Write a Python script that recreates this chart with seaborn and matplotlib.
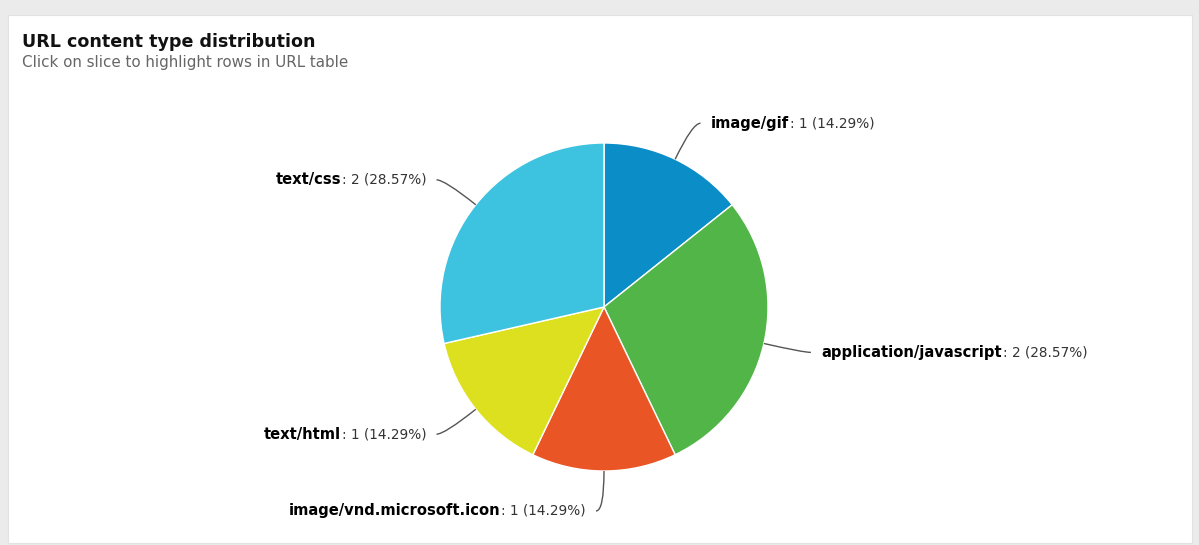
import numpy as np
import matplotlib
matplotlib.use("Agg")
import matplotlib.pyplot as plt
import seaborn as sns
from matplotlib.path import Path
from matplotlib.patches import PathPatch, Rectangle

# ---- data ----
categories = ["image/gif", "application/javascript", "image/vnd.microsoft.icon",
              "text/html", "text/css"]
counts = [1, 2, 1, 1, 2]
colors = ["#0b8dc8", "#52b548", "#e95525", "#dce01e", "#3dc3e0"]
title = "URL content type distribution"
subtitle = "Click on slice to highlight rows in URL table"

sns.set_theme(style="white")
plt.rcParams['font.family'] = ['DejaVu Sans']

W, H = 1199, 545
fig = plt.figure(figsize=(W / 100, H / 100), dpi=100, facecolor="#ebebeb")
ax = fig.add_axes([0, 0, 1, 1])

# white panel
ax.add_patch(Rectangle((8, 2), 1184, H - 17, facecolor="white", edgecolor="#e2e2e2",
                       linewidth=0.8, zorder=0))

cx, cy, r = 604, H - 307, 164
wedges, _ = ax.pie(counts, colors=colors, startangle=90, counterclock=False,
                   center=(cx, cy), radius=r, frame=True,
                   wedgeprops=dict(edgecolor="white", linewidth=1.0))
ax.set_xlim(0, W)
ax.set_ylim(0, H)
ax.axis("off")

ax.text(22, H - 42, title, fontsize=12.6, fontweight="bold", color="#111111",
        va="center", ha="left")
ax.text(22, H - 62, subtitle, fontsize=10.9, color="#666666", va="center", ha="left")

total = sum(counts)
fig.canvas.draw()
renderer = fig.canvas.get_renderer()
inv = ax.transData.inverted()

label_r = 204
bold_fs, rest_fs = 10.6, 9.8
for w, cat, n in zip(wedges, categories, counts):
    th = np.deg2rad((w.theta1 + w.theta2) / 2)
    ex, ey = cx + r * np.cos(th), cy + r * np.sin(th)
    lx, ly = cx + label_r * np.cos(th), cy + label_r * np.sin(th)
    right = np.cos(th) > 0.01
    sgn = 1 if right else -1
    endx = lx + sgn * 8
    path = Path([(ex, ey), (lx, ly), (endx, ly)], [Path.MOVETO, Path.CURVE3, Path.CURVE3])
    ax.add_patch(PathPatch(path, facecolor="none", edgecolor="#555555", linewidth=1.0))
    rest = f": {n} ({n / total * 100:.2f}%)"
    tx = endx + sgn * 10
    if right:
        t1 = ax.text(tx, ly, cat, fontsize=bold_fs, fontweight="bold", color="#000000",
                     ha="left", va="center")
        bb = t1.get_window_extent(renderer)
        x1 = inv.transform((bb.x1, bb.y0))[0]
        ax.text(x1 + 1, ly, rest, fontsize=rest_fs, color="#333333", ha="left", va="center")
    else:
        t2 = ax.text(tx, ly, rest, fontsize=rest_fs, color="#333333", ha="right", va="center")
        bb = t2.get_window_extent(renderer)
        x0 = inv.transform((bb.x0, bb.y0))[0]
        ax.text(x0 - 1, ly, cat, fontsize=bold_fs, fontweight="bold", color="#000000",
                ha="right", va="center")

fig.savefig("out.png", dpi=100, facecolor=fig.get_facecolor())
